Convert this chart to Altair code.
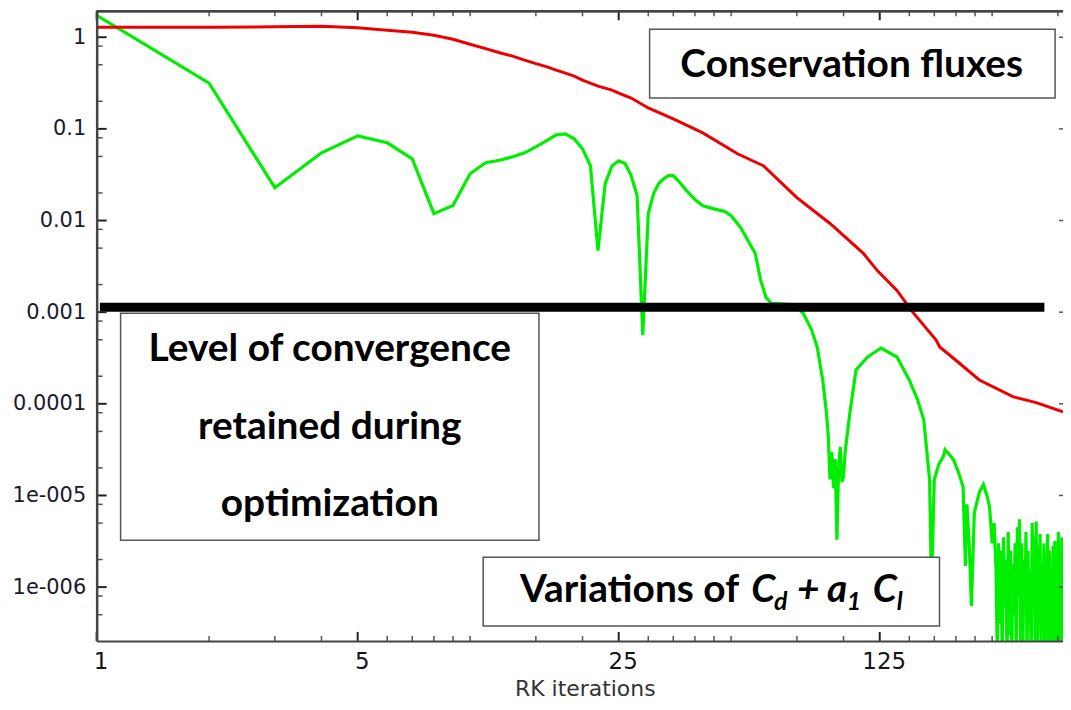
import altair as alt
import pandas as pd

# ---------------- data ----------------
green_it = [1, 2, 3, 4, 5, 6, 7, 8, 9, 10,
            11, 12, 13, 14, 15, 16, 17, 18, 19, 20,
            21, 22, 23, 24, 25, 26, 27, 28, 29, 30,
            31, 32, 33, 34, 35, 36, 38, 40, 42, 45,
            48, 50, 53, 58, 60, 62, 64, 67, 71, 75,
            78, 82, 85, 88, 90, 91, 92, 93, 94, 95,
            96, 97, 98, 99, 100, 101, 104, 108, 116, 126,
            139, 150, 158, 164, 170, 172, 175, 180, 185, 187,
            192, 197, 203, 209, 212, 214, 217, 220, 224, 231,
            237, 242, 246, 250, 253]
green_val = [1.73, 0.316, 0.0228, 0.0548, 0.0839, 0.0705, 0.047, 0.0119, 0.0146, 0.0324,
             0.0427, 0.0455, 0.0496, 0.0548, 0.0637, 0.0741, 0.086, 0.0883, 0.0778, 0.0606,
             0.0396, 0.0047, 0.0253, 0.0396, 0.0449, 0.0418, 0.0309, 0.0187, 0.00056, 0.0119,
             0.0197, 0.0253, 0.0286, 0.0309, 0.0309, 0.0275, 0.0212, 0.0169, 0.0145, 0.0134,
             0.0126, 0.0113, 0.0084, 0.0044, 0.00223, 0.00145, 0.00125, 0.00124, 0.00122, 0.00112,
             0.000975, 0.00065, 0.000417, 0.00018, 8.0e-5, 4.5e-5, 1.5e-5, 3.0e-5, 1.2e-5, 2.5e-5,
             3.3e-6, 2.0e-5, 3.4e-5, 1.4e-5, 1.6e-5, 3.0e-5, 8.0e-5, 2.34e-4, 3.24e-4, 4.06e-4,
             3.24e-4, 1.82e-4, 1.1e-4, 6.7e-5, 1.49e-5, 1.0e-6, 1.49e-5, 2.2e-5, 2.65e-5, 3.16e-5,
             2.8e-5, 2.46e-5, 1.8e-5, 1.25e-5, 1.7e-6, 8e-6, 3e-6, 6.2e-7, 6.5e-6, 1.08e-5,
             1.32e-5, 1.0e-5, 7.6e-6, 3e-6, 5e-6]

noise_it = [256, 258, 260, 262, 264, 266, 268, 270, 272, 274,
            276, 278, 280, 282, 284, 286, 288, 290, 292, 294,
            296, 298, 300, 302, 304, 306, 308, 310, 312, 314,
            316, 318, 320, 322, 324, 326, 328, 330, 332, 334,
            336, 338, 340, 342, 344, 346, 348, 350, 352, 354,
            356, 358, 360, 362, 364, 366, 368, 370, 372, 374,
            376, 378, 380, 382, 384, 386, 388, 390, 392]
noise_val = [1.6e-6, 2e-7, 3e-6, 4e-7, 2.5e-6, 1.5e-7, 3.5e-6, 6e-7, 2e-6, 1.5e-7,
             4e-6, 3e-7, 2.5e-6, 1.2e-7, 1.8e-6, 5e-7, 3e-6, 1.5e-7, 4.5e-6, 8e-7,
             5.5e-6, 2e-7, 3e-6, 1.2e-7, 2e-6, 6e-7, 4e-6, 1.5e-7, 2.5e-6, 4e-7,
             1.5e-6, 1.2e-7, 5e-6, 7e-7, 3.5e-6, 2e-7, 5.2e-6, 1.2e-7, 2.8e-6, 9e-7,
             3.8e-6, 1.5e-7, 1.8e-6, 4e-7, 3e-6, 1.2e-7, 2.2e-6, 6e-7, 3.8e-6, 1.5e-7,
             2.5e-6, 3e-7, 1.6e-6, 1.2e-7, 2.8e-6, 5e-7, 3.2e-6, 1.5e-7, 2e-6, 8e-7,
             4e-6, 2e-7, 2.6e-6, 1.2e-7, 3.5e-6, 4e-7, 2.2e-6, 1.5e-7, 1.8e-6]

red_it = [1, 2, 3, 4, 5, 6, 7, 8, 9, 10,
          11, 12, 13, 14, 15, 16, 17, 18, 19, 20,
          22, 24, 25, 27, 30, 35, 42, 52, 61, 75,
          92, 113, 123, 139, 150, 154, 177, 181, 204, 231,
          285, 328, 387]
red_val = [1.284, 1.284, 1.30, 1.317, 1.27, 1.19, 1.133, 1.051, 0.951, 0.839,
           0.750, 0.678, 0.622, 0.562, 0.515, 0.478, 0.438, 0.406, 0.377, 0.341,
           0.293, 0.265, 0.246, 0.217, 0.169, 0.1285, 0.0905, 0.0535, 0.0396, 0.0178,
           0.00928, 0.00438, 0.00286, 0.00173, 0.00113, 0.000975, 0.000496, 0.000417, 0.000279, 0.000182,
           0.000119, 0.000103, 8.19e-5]

level_from = [1.02]
level_to = [345]
level_value = [0.00113]

x_major = [1, 5, 25, 125]
x_minor = [2, 3, 4, 6, 7, 8, 9, 10, 15, 20, 30, 35, 40, 45, 50, 75, 100,
           150, 175, 200, 225, 250, 375]
y_major = [1, 0.1, 0.01, 0.001, 0.0001, 1e-5, 1e-6]
y_major_labels = ["1", "0.1", "0.01", "0.001", "0.0001", "1e-005", "1e-006"]
y_minor = [0.8, 0.5, 0.2, 0.08, 0.05, 0.02, 0.008, 0.005, 0.002,
           0.0008, 0.0005, 0.0002, 8e-5, 5e-5, 2e-5, 8e-6, 5e-6, 2e-6, 8e-7, 5e-7]

box_x1 = [30.25, 1.159, 10.84]
box_x2 = [368.6, 15.29, 180.7]
box_y1 = [1.222, 9.752e-4, 2.119e-6]
box_y2 = [0.2173, 3.243e-6, 3.768e-7]

flux_text = ["Conservation fluxes"]
flux_x, flux_y = [105.2], [0.501]
level_text = ["Level of convergence\nretained during\noptimization"]
level_tx, level_ty = [4.21], [3.913e-4]
var_x, var_y = [13.61], [6.87e-7]

# ---------------- chart ----------------
W, H = 970, 632
X_DOMAIN = [1, 387]
Y_DOMAIN = [2.588e-7, 1.918]
FONT_BOX = "Lato"
AXIS_COL = "#444444"

ylab_expr = ""
for v, lab in zip(y_major, y_major_labels):
    ylab_expr += f"abs(datum.value - {v}) < {v} * 1e-6 ? '{lab}' : "
ylab_expr += "''"

X_AXIS = alt.Axis(values=x_major, format="d", ticks=False, tickSize=0, grid=False,
                  domain=True, domainColor=AXIS_COL, domainWidth=2,
                  labelFont="DejaVu Sans", labelFontSize=23, labelColor="#151515",
                  labelPadding=10, labelFlush=False, labelOverlap=False, labelOffset=4,
                  title="RK iterations", titleFont="DejaVu Sans", titleFontSize=22,
                  titleFontWeight="normal", titleColor="#333333",
                  titleX=490, titleY=54.5, titleBaseline="alphabetic", titleAlign="center",
                  zindex=1)
Y_AXIS = alt.Axis(values=y_major, labelExpr=ylab_expr, ticks=False, tickSize=0, grid=False,
                  domain=True, domainColor=AXIS_COL, domainWidth=2.5,
                  labelFont="DejaVu Sans", labelFontSize=21, labelColor="#1a1a2a",
                  labelPadding=11, labelOverlap=False, labelFlush=False,
                  title="", zindex=1)


def X(field):
    return alt.X(field, type="quantitative",
                 scale=alt.Scale(type="log", domain=X_DOMAIN, nice=False), axis=X_AXIS)


def Y(field):
    return alt.Y(field, type="quantitative",
                 scale=alt.Scale(type="log", domain=Y_DOMAIN, nice=False), axis=Y_AXIS)


df_green = pd.DataFrame({"x": green_it + noise_it, "y": green_val + noise_val})
df_red = pd.DataFrame({"x": red_it, "y": red_val})

green = alt.Chart(df_green).mark_line(color="#00ee00", strokeWidth=3.2, clip=True).encode(
    x=X("x"), y=Y("y"))
red = alt.Chart(df_red).mark_line(color="#ee0000", strokeWidth=3, clip=True).encode(
    x=X("x"), y=Y("y"))

df_level = pd.DataFrame({"x": level_from, "x2": level_to, "y": level_value})
level = alt.Chart(df_level).mark_rule(color="black", strokeWidth=9).encode(
    x=X("x"), x2="x2:Q", y=Y("y"))

df_box = pd.DataFrame({"x": box_x1, "x2": box_x2, "y": box_y1, "y2": box_y2})
boxes = alt.Chart(df_box).mark_rect(fill="white", stroke="#555555", strokeWidth=1.5).encode(
    x=X("x"), x2="x2:Q", y=Y("y"), y2="y2:Q")

df_flux = pd.DataFrame({"x": flux_x, "y": flux_y, "t": flux_text})
flux = alt.Chart(df_flux).mark_text(font=FONT_BOX, fontWeight="bold", fontSize=39,
                                     align="center", baseline="middle", color="black").encode(
    x=X("x"), y=Y("y"), text="t:N")

df_lev = pd.DataFrame({"x": level_tx, "y": level_ty, "t": level_text})
lev = alt.Chart(df_lev).mark_text(font=FONT_BOX, fontWeight="bold", fontSize=39,
                                   align="center", baseline="middle", color="black",
                                   lineBreak="\n", lineHeight=77.5).encode(
    x=X("x"), y=Y("y"), text="t:N")

df_var = pd.DataFrame({"x": var_x, "y": var_y})
pieces = [
    ("Variations of", 0, 0, 39, "normal"),
    ("C", 232, 0, 39, "italic"),
    ("d", 255, 8, 25, "italic"),
    ("+", 278, 0, 39, "italic"),
    ("a", 308, 0, 39, "italic"),
    ("1", 328, 8, 25, "italic"),
    ("C", 354, 0, 39, "italic"),
    ("l", 378, 8, 25, "italic"),
]
var_layers = []
for txt, dx, dy, fs, style in pieces:
    var_layers.append(
        alt.Chart(df_var).mark_text(font=FONT_BOX, fontWeight="bold", fontSize=fs, fontStyle=style,
                                    align="left", baseline="alphabetic", color="black",
                                    dx=dx, dy=dy).encode(
            x=X("x"), y=Y("y"), text=alt.value(txt))
    )

df_xmaj = pd.DataFrame({"x": x_major})
df_xmin = pd.DataFrame({"x": x_minor})
df_ymaj = pd.DataFrame({"y": y_major})
df_ymin = pd.DataFrame({"y": y_minor})


def xtick(df, y0, y1, col, sw):
    return alt.Chart(df).mark_rule(color=col, strokeWidth=sw).encode(
        x=X("x"), y=alt.value(y0), y2=alt.value(y1))


def ytick(df, x0, x1, col, sw):
    return alt.Chart(df).mark_rule(color=col, strokeWidth=sw).encode(
        y=Y("y"), x=alt.value(x0), x2=alt.value(x1))


ticks = [
    xtick(df_xmaj, H, H - 9, "#222222", 2),
    xtick(df_xmin, H, H - 5, "#555555", 1.5),
    xtick(df_xmaj, 0, 9, "#222222", 2),
    xtick(df_xmin, 0, 5, "#555555", 1.5),
    ytick(df_ymaj, 0, 10, "#222222", 2),
    ytick(df_ymin, 0, 6, "#555555", 1.5),
    ytick(df_ymaj, W - 4, W, "#555555", 1.5),
]

border = alt.Chart(df_xmaj).mark_rule(color=AXIS_COL, strokeWidth=2).encode(
    x=alt.value(0), x2=alt.value(W), y=alt.value(0))

chart = alt.layer(
    green, red, level, boxes, flux, lev, *var_layers, *ticks, border
).properties(
    width=W, height=H,
    padding={"left": 89, "top": 2, "right": 0, "bottom": 60},
    autosize=alt.AutoSizeParams(type="none"),
    background="white",
).configure_view(stroke="transparent")

chart.save("out.html", embed_options={"renderer": "svg", "actions": False})
